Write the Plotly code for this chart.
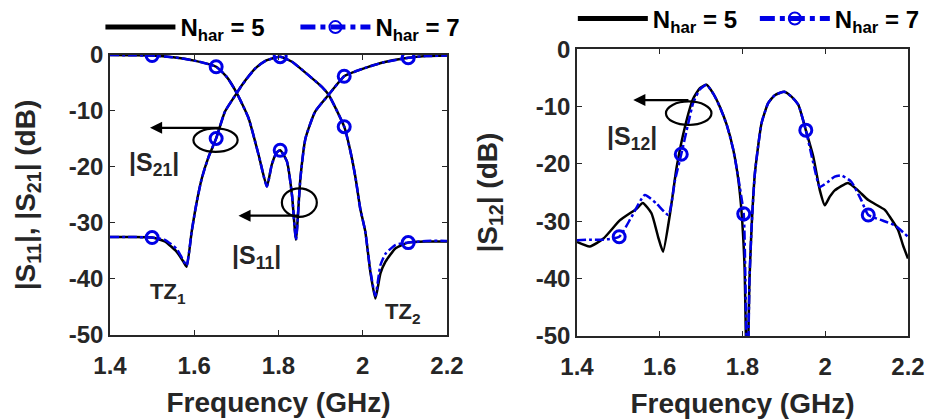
import plotly.graph_objects as go

# ---------------- data ----------------
# Left panel: |S21| and |S11| (dB) vs frequency (GHz)
s21_n5_f = [1.40, 1.45, 1.50, 1.53, 1.558, 1.575, 1.582, 1.594, 1.606, 1.618, 1.634, 1.652, 1.673, 1.701,
            1.713, 1.745, 1.77, 1.804, 1.832, 1.871, 1.903, 1.919, 1.956, 1.971, 1.983, 1.994, 2.006,
            2.018, 2.030, 2.042, 2.054, 2.078, 2.108, 2.15, 2.20]
s21_n5_db = [-32.5, -32.5, -32.6, -33.3, -35.1, -37.0, -37.8, -31.5, -26.2, -22.0, -18.2, -14.9, -10.1, -6.8,
             -5.4, -2.4, -1.0, -0.3, -1.2, -3.6, -5.7, -7.1, -12.8, -17.3, -22.0, -27.4, -31.5,
             -38.7, -43.5, -39.0, -36.9, -34.5, -33.5, -33.3, -33.3]
s21_n7_f = s21_n5_f
s21_n7_db = [-32.5, -32.5, -32.6, -33.0, -34.6, -36.8, -37.6, -31.5, -26.2, -22.0, -18.2, -14.9, -10.1, -6.8,
             -5.4, -2.4, -1.0, -0.3, -1.2, -3.6, -5.7, -7.1, -12.8, -17.3, -22.0, -27.4, -31.5,
             -38.5, -43.0, -37.5, -35.5, -33.9, -33.5, -33.2, -33.2]

s11_n5_f = [1.40, 1.45, 1.50, 1.55, 1.60, 1.652, 1.677, 1.701, 1.729, 1.753, 1.7725, 1.784, 1.795, 1.804,
            1.820, 1.832, 1.8415, 1.852, 1.864, 1.887, 1.919, 1.956, 1.98, 2.01, 2.05, 2.108, 2.15, 2.20]
s11_n5_db = [0.0, -0.05, -0.1, -0.4, -1.0, -2.1, -3.9, -6.8, -11.3, -17.9, -23.5, -19.6, -17.5, -17.0,
             -19.0, -25.0, -33.0, -22.0, -14.9, -10.1, -7.1, -3.8, -3.0, -2.2, -1.3, -0.5, -0.2, -0.1]
s11_n7_f = s11_n5_f
s11_n7_db = s11_n5_db

# Right panel: |S12| (dB)
s12_n5_f = [1.400, 1.431, 1.464, 1.504, 1.544, 1.559, 1.580, 1.596, 1.608, 1.625, 1.641, 1.661, 1.681,
            1.697, 1.713, 1.729, 1.745, 1.762, 1.778, 1.790, 1.798, 1.805, 1.811, 1.817, 1.822, 1.830,
            1.846, 1.862, 1.878, 1.901, 1.919, 1.935, 1.953, 1.971, 1.987, 1.999, 2.011, 2.023, 2.055,
            2.079, 2.104, 2.144, 2.156, 2.176, 2.188, 2.200]
s12_n5_db = [-33.6, -34.4, -33.0, -29.8, -27.8, -26.8, -28.6, -32.7, -35.3, -28.6, -20.5, -13.5, -8.6,
             -6.8, -6.2, -7.7, -10.0, -13.2, -17.6, -22.8, -28.6, -38.0, -60.0, -40.0, -31.0, -21.6,
             -12.9, -9.4, -8.0, -7.4, -8.3, -9.7, -14.1, -18.7, -24.6, -27.2, -25.7, -24.6, -23.3,
             -24.6, -26.3, -28.0, -29.2, -31.5, -34.2, -36.5]
s12_n7_f = [1.400, 1.430, 1.464, 1.502, 1.532, 1.564, 1.592, 1.621, 1.637, 1.652, 1.669, 1.681, 1.697,
            1.713, 1.729, 1.745, 1.762, 1.778, 1.790, 1.803, 1.807, 1.812, 1.817, 1.822, 1.830, 1.846,
            1.862, 1.878, 1.901, 1.919, 1.935, 1.953, 1.971, 1.987, 2.007, 2.023, 2.039, 2.063, 2.087,
            2.104, 2.136, 2.168, 2.200]
s12_n7_db = [-33.3, -33.2, -33.2, -32.7, -29.2, -25.4, -26.9, -28.9, -22.8, -18.3, -12.9, -9.3, -7.0,
             -6.2, -7.7, -10.0, -13.2, -17.6, -22.5, -28.7, -40.0, -60.0, -40.0, -31.0, -21.6, -12.9,
             -9.4, -8.0, -7.4, -8.3, -9.7, -14.1, -19.8, -24.0, -23.1, -22.2, -22.0, -23.1, -26.3,
             -28.9, -29.8, -30.7, -32.7]

# frequencies at which the N_har = 7 curves carry circle markers
marker_f_left = [1.50, 1.652, 1.804, 1.956, 2.108]
marker_f_right = [1.502, 1.652, 1.803, 1.953, 2.104]

tick_vals_x = [1.4, 1.6, 1.8, 2.0, 2.2]
tick_text_x = ["1.4", "1.6", "1.8", "2", "2.2"]
tick_vals_y = [-50, -40, -30, -20, -10, 0]
tick_text_y = ["-50", "-40", "-30", "-20", "-10", "0"]

legend_5 = "N<sub>har</sub> = 5"
legend_7 = "N<sub>har</sub> = 7"

# ---------------- styling ----------------
FONT = "Liberation Sans, Arial, sans-serif"
INK = "#262626"
BLACK = "#000000"
BLUE = "#0000e6"
LW = 2.5
MSIZE = 12


def sizes(freqs, marks):
    return [MSIZE if any(abs(f - m) < 1e-9 for m in marks) else 0 for f in freqs]


fig = go.Figure()

# left panel
for f, db, show in [(s21_n5_f, s21_n5_db, True), (s11_n5_f, s11_n5_db, False)]:
    fig.add_trace(go.Scatter(x=f, y=db, mode="lines", name=legend_5, showlegend=show,
                             legend="legend", line=dict(color=BLACK, width=LW, shape="spline", smoothing=0.5),
                             xaxis="x", yaxis="y"))
for f, db, show in [(s21_n7_f, s21_n7_db, True), (s11_n7_f, s11_n7_db, False)]:
    fig.add_trace(go.Scatter(x=f, y=db, mode="lines+markers", name=legend_7, showlegend=show,
                             legend="legend",
                             line=dict(color=BLUE, width=LW, dash="dashdot", shape="spline", smoothing=0.5),
                             marker=dict(symbol="circle-open", size=sizes(f, marker_f_left), opacity=1,
                                         color=BLUE, line=dict(width=3, color=BLUE)),
                             xaxis="x", yaxis="y"))

# right panel
fig.add_trace(go.Scatter(x=s12_n5_f, y=s12_n5_db, mode="lines", name=legend_5, legend="legend2",
                         line=dict(color=BLACK, width=LW, shape="spline", smoothing=0.5),
                         xaxis="x2", yaxis="y2"))
fig.add_trace(go.Scatter(x=s12_n7_f, y=s12_n7_db, mode="lines+markers", name=legend_7, legend="legend2",
                         line=dict(color=BLUE, width=LW, dash="dashdot", shape="spline", smoothing=0.5),
                         marker=dict(symbol="circle-open", size=sizes(s12_n7_f, marker_f_right), opacity=1,
                                     color=BLUE, line=dict(width=3, color=BLUE)),
                         xaxis="x2", yaxis="y2"))

tickfont = dict(family=FONT, size=24, color=INK, weight="bold")
titlefont = dict(family=FONT, size=28, color=INK, weight="bold")


def xax(domain, anchor):
    return dict(domain=domain, anchor=anchor, range=[1.4, 2.2], tickvals=tick_vals_x, ticktext=tick_text_x,
                ticks="inside", ticklen=5, tickwidth=1.2, tickcolor=INK, showline=True, linecolor=INK,
                linewidth=1.5, mirror="ticks", showgrid=False, zeroline=False, tickfont=tickfont,
                ticklabelstandoff=8, automargin=False,
                title=dict(text="Frequency (GHz)", font=titlefont, standoff=15))


def yax(domain, anchor, title, standoff):
    return dict(domain=domain, anchor=anchor, range=[-50, 0], tickvals=tick_vals_y, ticktext=tick_text_y,
                ticks="inside", ticklen=5, tickwidth=1.2, tickcolor=INK, showline=True, linecolor=INK,
                linewidth=1.5, mirror="ticks", showgrid=False, zeroline=False, tickfont=tickfont,
                automargin=False,
                title=dict(text=title, font=titlefont, standoff=standoff))


legend_common = dict(orientation="h", font=dict(family=FONT, size=24, color=BLACK, weight="bold"),
                     bgcolor="rgba(0,0,0,0)", itemsizing="constant", itemwidth=70,
                     xanchor="left", yanchor="middle", tracegroupgap=0)

fig.update_layout(
    width=928, height=420,
    margin=dict(l=110, r=20, t=49, b=84, autoexpand=False),
    paper_bgcolor="white", plot_bgcolor="white",
    xaxis=xax([0.0, 0.4223], "y"),
    yaxis=yax([0.0035, 0.9791], "x", "|S<sub>11</sub>|, |S<sub>21</sub>| (dB)", 25),
    xaxis2=xax([0.5852, 1.0], "y2"),
    yaxis2=yax([0.0, 0.999], "x2", "|S<sub>12</sub>| (dB)", 30),
    legend=dict(legend_common, x=-0.012, y=1.075, entrywidth=110),
    legend2=dict(legend_common, x=0.58, y=1.105, entrywidth=97),
    showlegend=True,
)

# annotations: label texts
lab_font = dict(family=FONT, size=25, color=INK, weight="bold")
tz_font = dict(family=FONT, size=22, color=INK, weight="bold")
fig.add_annotation(x=1.505, y=-19.5, xref="x", yref="y", text="|S<sub>21</sub>|", showarrow=False, font=lab_font)
fig.add_annotation(x=1.747, y=-36.0, xref="x", yref="y", text="|S<sub>11</sub>|", showarrow=False, font=lab_font)
fig.add_annotation(x=1.538, y=-42.5, xref="x", yref="y", text="TZ<sub>1</sub>", showarrow=False, font=tz_font)
fig.add_annotation(x=2.095, y=-46.0, xref="x", yref="y", text="TZ<sub>2</sub>", showarrow=False, font=tz_font)
fig.add_annotation(x=1.533, y=-15.5, xref="x2", yref="y2", text="|S<sub>12</sub>|", showarrow=False, font=lab_font)

# arrows (tip at x, tail at ax)
for (xr, yr, tip, tail, yy) in [("x", "y", 1.495, 1.662, -13.0), ("x", "y", 1.705, 1.852, -28.7),
                                ("x2", "y2", 1.536, 1.673, -8.85)]:
    fig.add_annotation(x=tip, y=yy, ax=tail, ay=yy, xref=xr, yref=yr, axref=xr, ayref=yr, text="",
                       showarrow=True, arrowhead=2, arrowsize=1.1, arrowwidth=2.2, arrowcolor=BLACK)

# ellipses
for (xr, yr, x0, x1, y0, y1) in [("x", "y", 1.598, 1.703, -13.1, -17.3), ("x", "y", 1.808, 1.891, -23.8, -28.9),
                                 ("x2", "y2", 1.615, 1.725, -9.1, -13.2)]:
    fig.add_shape(type="circle", xref=xr, yref=yr, x0=x0, x1=x1, y0=y0, y1=y1,
                  line=dict(color=BLACK, width=2.2))

fig.write_html("out.html")
